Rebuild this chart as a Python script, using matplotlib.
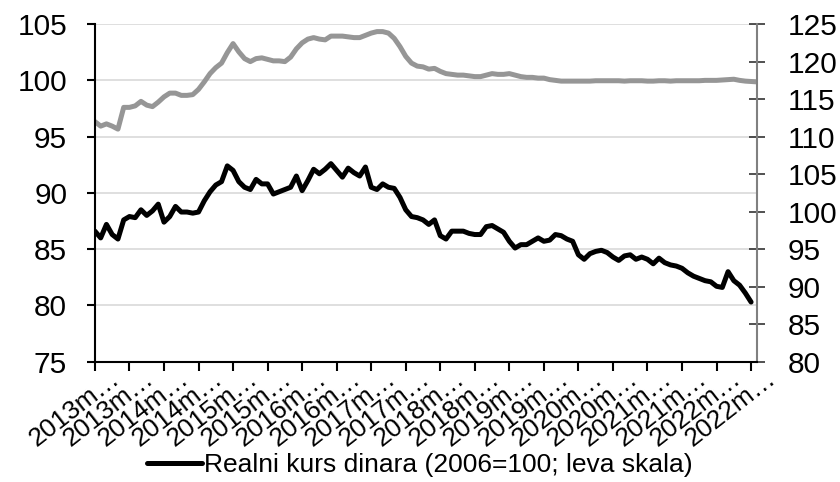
import matplotlib.pyplot as plt
from matplotlib.ticker import MultipleLocator
from matplotlib.transforms import ScaledTranslation

plt.rcParams['font.family'] = ['Liberation Sans', 'DejaVu Sans']

# realni kurs dinara, leva skala (2013m1 - 2022m7)
real_rate = [
    86.6, 86.0, 87.2, 86.3, 85.9, 87.6, 87.9, 87.8, 88.5, 88.0,
    88.4, 89.0, 87.4, 87.9, 88.8, 88.3, 88.3, 88.2, 88.3, 89.3,
    90.1, 90.7, 91.0, 92.4, 92.0, 91.0, 90.5, 90.3, 91.2, 90.8,
    90.8, 89.9, 90.1, 90.3, 90.5, 91.5, 90.2, 91.1, 92.1, 91.7,
    92.1, 92.6, 92.0, 91.4, 92.2, 91.8, 91.5, 92.3, 90.5, 90.3,
    90.8, 90.5, 90.4, 89.6, 88.5, 87.9, 87.8, 87.6, 87.2, 87.6,
    86.2, 85.9, 86.6, 86.6, 86.6, 86.4, 86.3, 86.3, 87.0, 87.1,
    86.8, 86.5, 85.7, 85.1, 85.4, 85.4, 85.7, 86.0, 85.7, 85.8,
    86.3, 86.2, 85.9, 85.7, 84.5, 84.1, 84.6, 84.8, 84.9, 84.7,
    84.3, 84.0, 84.4, 84.5, 84.1, 84.3, 84.1, 83.7, 84.2, 83.8,
    83.6, 83.5, 83.3, 82.9, 82.6, 82.4, 82.2, 82.1, 81.7, 81.6,
    83.0, 82.2, 81.8, 81.1, 80.3,
]

# nominalni kurs, desna skala (2013m1 - 2022m8)
nominal_rate = [
    112.0, 111.4, 111.7, 111.4, 111.0, 113.9, 113.9, 114.1, 114.7, 114.2,
    114.0, 114.6, 115.3, 115.8, 115.8, 115.5, 115.5, 115.6, 116.3, 117.3,
    118.4, 119.2, 119.8, 121.2, 122.4, 121.3, 120.4, 120.0, 120.4, 120.5,
    120.3, 120.1, 120.1, 120.0, 120.6, 121.7, 122.5, 123.0, 123.2, 123.0,
    122.9, 123.4, 123.4, 123.4, 123.3, 123.2, 123.2, 123.5, 123.8, 124.0,
    124.0, 123.8, 123.1, 122.0, 120.7, 119.8, 119.4, 119.3, 119.0, 119.1,
    118.7, 118.4, 118.3, 118.2, 118.2, 118.1, 118.0, 118.0, 118.2, 118.4,
    118.3, 118.3, 118.4, 118.2, 118.0, 117.9, 117.9, 117.8, 117.8, 117.6,
    117.5, 117.4, 117.4, 117.4, 117.4, 117.4, 117.4, 117.45, 117.45, 117.45,
    117.45, 117.45, 117.4, 117.45, 117.45, 117.45, 117.4, 117.4, 117.45, 117.45,
    117.4, 117.45, 117.45, 117.45, 117.45, 117.45, 117.5, 117.5, 117.5, 117.55,
    117.6, 117.65, 117.5, 117.4, 117.35, 117.3,
]

tick_labels = []
for year in range(2013, 2023):
    tick_labels += [f"{year}m\u2026", f"{year}m\u2026"]

fig = plt.figure(figsize=(8.4, 4.82), dpi=100)
ax = fig.add_axes([0.113, 0.2496, 0.788, 0.7004])
ax2 = ax.twinx()

ax.set_zorder(ax2.get_zorder() + 1)
ax.patch.set_visible(False)

line_real, = ax.plot(range(len(real_rate)), real_rate, color='black', lw=3.6,
                     solid_joinstyle='round', solid_capstyle='round',
                     label='Realni kurs dinara (2006=100; leva skala)')
ax2.plot(range(len(nominal_rate)), nominal_rate, color='#969696', lw=3.6,
         solid_joinstyle='round', solid_capstyle='round')

ax.set_xlim(0, len(nominal_rate) - 1)
ax.set_ylim(75, 105)
ax2.set_ylim(80, 125)
ax.yaxis.set_major_locator(MultipleLocator(5))
ax2.yaxis.set_major_locator(MultipleLocator(5))

# gridlines follow the left scale
for v in range(80, 106, 5):
    ax2.axhline(80 + (v - 75) * 1.5, color='#d9d9d9', lw=1.2, zorder=0)

for a in (ax, ax2):
    a.spines['top'].set_visible(False)
ax.spines['right'].set_visible(False)
ax2.spines['left'].set_visible(False)
ax2.spines['bottom'].set_visible(False)
ax.spines['left'].set_linewidth(1.5)
ax.spines['bottom'].set_linewidth(1.5)
ax2.spines['right'].set_color('#808080')
ax2.spines['right'].set_linewidth(1.5)

ax.tick_params(axis='y', direction='out', length=6, width=1.5, labelsize=21.5, pad=14)
ax.tick_params(axis='x', direction='out', length=6.5, width=1.5, pad=4)
ax2.tick_params(axis='y', direction='inout', length=12, width=1.2, labelsize=21.5,
                pad=16, color='#333333')

ax.set_xticks(range(0, len(nominal_rate), 6))
ax.set_xticklabels(tick_labels, rotation=38, ha='right', rotation_mode='anchor',
                   fontsize=19)
# excel puts the rotated labels a bit up and to the right of the tick
shift = ScaledTranslation(0.14, 0.10, fig.dpi_scale_trans)
for lbl in ax.get_xticklabels():
    lbl.set_transform(lbl.get_transform() + shift)

fig.legend(handles=[line_real], loc='center', bbox_to_anchor=(0.5, 0.035),
           frameon=False, fontsize=19, handlelength=2.1, handletextpad=0.08,
           borderaxespad=0)

fig.savefig('out.png', dpi=100)
